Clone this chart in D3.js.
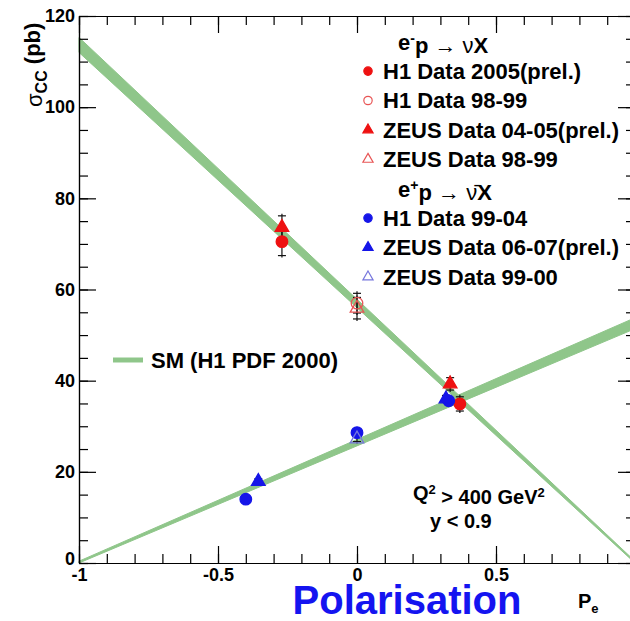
<!DOCTYPE html>
<html lang="en">
<head>
<meta charset="UTF-8">
<title>CC cross section vs polarisation</title>
<style>
    body{ margin:0; background:#fff; }
    svg{ display:block; font-family:"Liberation Sans", Arial, sans-serif; }
    .axis path, .axis line{ stroke:#000; stroke-width:1.2px; }
    .axis text{ font-size:18px; font-weight:bold; fill:#000; }
    .lbl{ font-weight:bold; fill:#000; }
    .err{ stroke:#111; stroke-width:1.2px; }
</style>
<script src="https://cdn.jsdelivr.net/npm/d3@7"></script>
</head>
<body>
<script>
// SM prediction bands (H1 PDF 2000): endpoints at P = -1 and P = +1
const smP = [-1, 1];
const smEmLow = [112.0, 0.0];
const smEmHigh = [115.3, 0.4];
const smEpLow = [0.0, 51.4];
const smEpHigh = [0.4, 53.8];

// e-p data
const h1_05_P = [-0.27, 0.37], h1_05_S = [70.5, 34.9], h1_05_E = [3.5, 2.0];
const h1_9899_P = [0.0], h1_9899_S = [57.0], h1_9899_E = [2.6];
const zeus_0405_P = [-0.27, 0.335], zeus_0405_S = [73.6, 39.3], zeus_0405_E = [3.0, 1.8];
const zeus_9899_P = [0.0], zeus_9899_S = [55.9], zeus_9899_E = [2.8];
// e+p data
const h1_9904_P = [-0.40, 0.0, 0.33], h1_9904_S = [14.0, 28.6, 35.6], h1_9904_E = [1.0, 1.0, 1.3];
const zeus_0607_P = [-0.355, 0.32], zeus_0607_S = [17.9, 36.0], zeus_0607_E = [1.0, 1.2];
const zeus_9900_P = [0.0], zeus_9900_S = [27.2], zeus_9900_E = [1.0];

const xMajor = [-1, -0.5, 0, 0.5, 1];
const xMajorLabels = ["-1", "-0.5", "0", "0.5", ""];
const yMajor = [0, 20, 40, 60, 80, 100, 120];

const width = 630, height = 621;
const svg = d3.select("body").append("svg")
    .attr("width", width).attr("height", height);

const xScale = d3.scaleLinear().domain([-1, 1]).range([79, 635]);
const yScale = d3.scaleLinear().domain([0, 120]).range([563, 16]);

const green = "#8fc68a";

// SM bands
const band = d3.area()
    .x(d => xScale(d.p))
    .y0(d => yScale(d.lo))
    .y1(d => yScale(d.hi));
const emBand = smP.map((p, i) => ({p: p, lo: smEmLow[i], hi: smEmHigh[i]}));
const epBand = smP.map((p, i) => ({p: p, lo: smEpLow[i], hi: smEpHigh[i]}));
svg.append("g").selectAll("path")
    .data([emBand, epBand])
    .enter().append("path")
    .attr("d", d => band(d))
    .attr("fill", green)
    .attr("stroke", green)
    .attr("stroke-width", 1);

// axes (ticks inside the frame)
const minorX = d3.range(-1, 1.0001, 0.1).map(v => +v.toFixed(2));
const minorY = d3.range(0, 120.001, 5);
function minor(g){ g.selectAll("text").remove(); }
svg.append("g").attr("class", "axis")
    .attr("transform", `translate(0,${yScale(0)})`)
    .call(d3.axisBottom(xScale).tickValues(minorX).tickSize(-9).tickSizeOuter(0))
    .call(minor);
svg.append("g").attr("class", "axis")
    .attr("transform", `translate(0,${yScale(0)})`)
    .call(d3.axisBottom(xScale).tickValues(xMajor).tickSize(-17).tickPadding(5)
        .tickFormat((d, i) => xMajorLabels[i]).tickSizeOuter(0));
svg.append("g").attr("class", "axis")
    .attr("transform", `translate(0,${yScale(120)})`)
    .call(d3.axisTop(xScale).tickValues(minorX).tickSize(-9).tickSizeOuter(0))
    .call(minor);
svg.append("g").attr("class", "axis")
    .attr("transform", `translate(0,${yScale(120)})`)
    .call(d3.axisTop(xScale).tickValues(xMajor).tickSize(-17).tickSizeOuter(0))
    .call(minor);
svg.append("g").attr("class", "axis")
    .attr("transform", `translate(${xScale(-1)},0)`)
    .call(d3.axisLeft(yScale).tickValues(minorY).tickSize(-9).tickSizeOuter(0))
    .call(minor);
const yAx = svg.append("g").attr("class", "axis")
    .attr("transform", `translate(${xScale(-1)},0)`)
    .call(d3.axisLeft(yScale).tickValues(yMajor).tickSize(-17).tickPadding(4).tickSizeOuter(0));
// lift the "0" label a little so it clears the "-1" below it
yAx.selectAll(".tick text").filter(d => d === 0).attr("dy", "0.1em");
svg.append("g").attr("class", "axis")
    .attr("transform", `translate(${xScale(1)},0)`)
    .call(d3.axisRight(yScale).tickValues(minorY).tickSize(-9).tickSizeOuter(0))
    .call(minor);
svg.append("g").attr("class", "axis")
    .attr("transform", `translate(${xScale(1)},0)`)
    .call(d3.axisRight(yScale).tickValues(yMajor).tickSize(-17).tickSizeOuter(0))
    .call(minor);

// data series
const series = [
    {P: h1_05_P, S: h1_05_S, E: h1_05_E, shape: "circle", fill: "#ee1111", stroke: "#ee1111"},
    {P: h1_9899_P, S: h1_9899_S, E: h1_9899_E, shape: "circle", fill: "none", stroke: "#e85555"},
    {P: zeus_0405_P, S: zeus_0405_S, E: zeus_0405_E, shape: "triangle", fill: "#ee1111", stroke: "#ee1111"},
    {P: zeus_9899_P, S: zeus_9899_S, E: zeus_9899_E, shape: "triangle", fill: "none", stroke: "#e85555"},
    {P: h1_9904_P, S: h1_9904_S, E: h1_9904_E, shape: "circle", fill: "#1515e8", stroke: "#1515e8"},
    {P: zeus_0607_P, S: zeus_0607_S, E: zeus_0607_E, shape: "triangle", fill: "#1515e8", stroke: "#1515e8"},
    {P: zeus_9900_P, S: zeus_9900_S, E: zeus_9900_E, shape: "triangle", fill: "none", stroke: "#7777dd"}
];
const symCircle = d3.symbol().type(d3.symbolCircle).size(105);
const symTri = d3.symbol().type(d3.symbolTriangle).size(80);

const pts = [];
series.forEach(s => s.P.forEach((p, i) => pts.push({p: p, s: s.S[i], e: s.E[i], ser: s})));

const errG = svg.append("g");
errG.selectAll("line.v").data(pts).enter().append("line")
    .attr("class", "err")
    .attr("x1", d => xScale(d.p)).attr("x2", d => xScale(d.p))
    .attr("y1", d => yScale(d.s - d.e)).attr("y2", d => yScale(d.s + d.e));
errG.selectAll("line.t").data(pts).enter().append("line")
    .attr("class", "err")
    .attr("x1", d => xScale(d.p) - 4).attr("x2", d => xScale(d.p) + 4)
    .attr("y1", d => yScale(d.s + d.e) + 2).attr("y2", d => yScale(d.s + d.e) + 2);
errG.selectAll("line.b").data(pts).enter().append("line")
    .attr("class", "err")
    .attr("x1", d => xScale(d.p) - 4).attr("x2", d => xScale(d.p) + 4)
    .attr("y1", d => yScale(d.s - d.e) - 2).attr("y2", d => yScale(d.s - d.e) - 2);

svg.append("g").selectAll("path").data(pts).enter().append("path")
    .attr("transform", d => `translate(${xScale(d.p)},${yScale(d.s)})`)
    .attr("d", d => d.ser.shape === "circle" ? symCircle() : symTri())
    .attr("fill", d => d.ser.fill)
    .attr("stroke", d => d.ser.stroke)
    .attr("stroke-width", 1.3);

// legend
const legendRows = [
    {head: "em"},
    {name: "H1 Data 2005(prel.)", ser: series[0]},
    {name: "H1 Data 98-99", ser: series[1]},
    {name: "ZEUS Data 04-05(prel.)", ser: series[2]},
    {name: "ZEUS Data 98-99", ser: series[3]},
    {head: "ep"},
    {name: "H1 Data 99-04", ser: series[4]},
    {name: "ZEUS Data 06-07(prel.)", ser: series[5]},
    {name: "ZEUS Data 99-00", ser: series[6]}
];
const legend = svg.append("g").selectAll("g").data(legendRows).enter().append("g")
    .attr("transform", (d, i) => `translate(368,${41.7 + i * 29.4})`);
const symCircleS = d3.symbol().type(d3.symbolCircle).size(55);
const symTriS = d3.symbol().type(d3.symbolTriangle).size(45);
legend.filter(d => d.ser).append("path")
    .attr("d", d => d.ser.shape === "circle" ? symCircleS() : symTriS())
    .attr("fill", d => d.ser.fill)
    .attr("stroke", d => d.ser.stroke)
    .attr("stroke-width", 1.2);
legend.filter(d => d.ser).append("text")
    .attr("class", "lbl")
    .attr("x", 15).attr("dy", "0.36em")
    .style("font-size", "22px")
    .text(d => d.name);
const heads = legend.filter(d => d.head).append("text")
    .attr("class", "lbl").attr("x", 30).attr("dy", "0.36em")
    .style("font-size", "22px");
heads.append("tspan").text("e");
heads.append("tspan").attr("dy", "-0.45em").style("font-size", "14px")
    .text(d => d.head === "em" ? "-" : "+");
heads.append("tspan").attr("dy", "0.45em").text("p ");
heads.append("tspan").style("font-weight", "normal").text("\u2192 ");
heads.append("tspan").style("font-weight", "normal")
    .text(d => d.head === "em" ? "\u03bd" : "\u03bd\u0304");
heads.append("tspan").text("X");

// SM legend
svg.append("line")
    .attr("x1", 113).attr("x2", 143).attr("y1", 360).attr("y2", 360)
    .attr("stroke", green).attr("stroke-width", 5);
svg.append("text").attr("class", "lbl")
    .attr("x", 151).attr("y", 360).attr("dy", "0.36em")
    .style("font-size", "22px")
    .text("SM (H1 PDF 2000)");

// kinematic cuts
const q = svg.append("text").attr("class", "lbl")
    .attr("x", 413).attr("y", 500).style("font-size", "20px");
q.append("tspan").text("Q");
q.append("tspan").attr("dy", "-0.5em").style("font-size", "13px").text("2");
q.append("tspan").attr("dy", "0.5em").text(" > 400 GeV");
q.append("tspan").attr("dy", "-0.5em").style("font-size", "13px").text("2");
svg.append("text").attr("class", "lbl")
    .attr("x", 430).attr("y", 528).style("font-size", "20px")
    .text("y < 0.9");

// y axis title
const yt = svg.append("text").attr("class", "lbl")
    .attr("transform", "translate(42,107) rotate(-90)")
    .style("font-size", "22px");
yt.append("tspan").style("font-weight", "normal").text("\u03c3");
yt.append("tspan").attr("dy", "0.3em").style("font-size", "16px").text("CC");
yt.append("tspan").attr("dy", "-0.3em").text(" (pb)");

// x axis title
const xt = svg.append("text").attr("class", "lbl")
    .attr("x", 578).attr("y", 608).style("font-size", "20px");
xt.append("tspan").text("P");
xt.append("tspan").attr("dy", "0.35em").style("font-size", "13px").text("e");

svg.append("text")
    .attr("x", 407).attr("y", 614)
    .attr("text-anchor", "middle")
    .style("font-size", "40px").style("font-weight", "bold")
    .attr("fill", "#1414f0")
    .text("Polarisation");
</script>
</body>
</html>
